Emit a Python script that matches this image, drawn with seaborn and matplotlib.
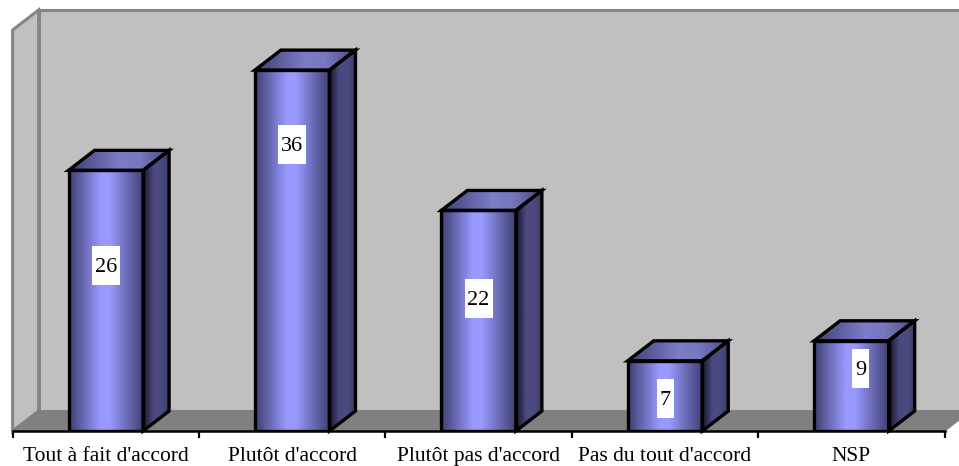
import matplotlib
matplotlib.use('Agg')
import matplotlib.pyplot as plt
import numpy as np
import seaborn as sns
from matplotlib.colors import LinearSegmentedColormap
from matplotlib.patches import Polygon, Rectangle

categories = ["Tout à fait d'accord", "Plutôt d'accord", "Plutôt pas d'accord",
              "Pas du tout d'accord", "NSP"]
values = [26, 36, 22, 7, 9]
# the value labels sit where they were dragged by hand, not at the bar centres
label_heights = [16.5, 28.6, 13.2, 3.2, 6.2]
label_shift = [0, 0, 0, 0, 0.05]

sns.set_theme(style='white')
plt.rcParams['font.family'] = ['Liberation Serif']

W, H = 959, 466
fig = plt.figure(figsize=(W / 100, H / 100), dpi=100)
ax = fig.add_axes([12.6 / W, (H - 431) / H, 932 / W, 401 / H])

front_cmap = LinearSegmentedColormap.from_list(
    'front', [(0, '#3f3f72'), (0.42, '#9999ff'), (0.55, '#9999ff'), (1, '#3f3f72')])
top_cmap = LinearSegmentedColormap.from_list(
    'top', [(0, '#3f3f72'), (0.5, '#7c7cc8'), (0.7, '#7878c0'), (1, '#4a4a80')])
side_cmap = LinearSegmentedColormap.from_list(
    'side', [(0, '#15152c'), (0.4, '#4a4a80'), (0.7, '#4a4a80'), (1, '#3c3c66')])

sns.barplot(x=categories, y=values, color='#9999ff', width=0.4, saturation=1, ax=ax)
bars = list(ax.containers[0])

ax.set_xlim(-0.5, 4.5)
ax.set_ylim(0, 40)
ax.set_xlabel('')
ax.set_ylabel('')

# depth of the fake 3d box, pixels turned into data units
dx = 26 / (932 / 5)
dy = 20 / (401 / 40)
wall = '#c0c0c0'
border = '#868686'


def add_poly(pts, **kw):
    poly = Polygon(pts, closed=True, clip_on=False, **kw)
    ax.add_patch(poly)
    return poly


def fill_gradient(pts, cmap, zorder):
    pts = np.array(pts)
    clip = add_poly(pts, facecolor='none', edgecolor='none', zorder=zorder)
    im = ax.imshow(np.linspace(0, 1, 128).reshape(1, -1), cmap=cmap, aspect='auto',
                   extent=[pts[:, 0].min(), pts[:, 0].max(), pts[:, 1].min(), pts[:, 1].max()],
                   zorder=zorder)
    im.set_clip_path(clip)


x0, x1 = -0.5, 4.5
add_poly([(x0 + dx, dy), (x1 + dx, dy), (x1 + dx, 40 + dy), (x0 + dx, 40 + dy)],
         facecolor=wall, edgecolor=border, linewidth=2.2, zorder=0.5)
add_poly([(x0, 0), (x0 + dx, dy), (x0 + dx, 40 + dy), (x0, 40)],
         facecolor=wall, edgecolor=border, linewidth=2.2, zorder=0.6)
add_poly([(x0, 0), (x1, 0), (x1 + dx, dy), (x0 + dx, dy)],
         facecolor='#808080', edgecolor='#808080', linewidth=1, zorder=0.7)

for i, bar in enumerate(bars):
    l, w, h = bar.get_x(), bar.get_width(), bar.get_height()
    r = l + w
    top = [(l, h), (r, h), (r + dx, h + dy), (l + dx, h + dy)]
    side = [(r, 0), (r + dx, dy), (r + dx, h + dy), (r, h)]
    fill_gradient([(l, 0), (r, 0), (r, h), (l, h)], front_cmap, 2)
    fill_gradient(top, top_cmap, 2)
    fill_gradient(side, side_cmap, 2)
    bar.set_facecolor('none')
    bar.set_edgecolor('black')
    bar.set_linewidth(2.4)
    bar.set_zorder(3)
    add_poly(top, facecolor='none', edgecolor='black', linewidth=2.4, joinstyle='miter', zorder=3)
    add_poly(side, facecolor='none', edgecolor='black', linewidth=2.4, joinstyle='miter', zorder=3)

    # white box behind the number
    cx = i + label_shift[i]
    half_w = (14 if values[i] >= 10 else 8.5) / (932 / 5)
    half_h = 19.5 / (401 / 40)
    ax.add_patch(Rectangle((cx - half_w, label_heights[i] - half_h), 2 * half_w, 2 * half_h,
                           facecolor='white', edgecolor='none', zorder=4))
    ax.text(cx, label_heights[i] - 0.2, str(values[i]), ha='center', va='center',
            fontsize=16, color='black', zorder=5)

ax.set_xlim(-0.5, 4.5)
ax.set_ylim(0, 40)

# ticks between the categories, labels on the invisible minor ticks
ax.set_xticks(np.arange(-0.5, 5, 1))
ax.set_xticklabels([])
ax.set_xticks(np.arange(5), labels=categories, minor=True)
ax.tick_params(axis='x', which='major', length=5, width=1.6, color='black', bottom=True)
ax.tick_params(axis='x', which='minor', length=0, pad=11.5, labelsize=15.5, labelcolor='black')
ax.set_yticks([])
sns.despine(ax=ax, left=True, top=True, right=True)
ax.spines['bottom'].set_color('black')
ax.spines['bottom'].set_linewidth(1.8)
ax.spines['bottom'].set_zorder(6)
ax.patch.set_alpha(0)

fig.savefig('out.png', dpi=100)
